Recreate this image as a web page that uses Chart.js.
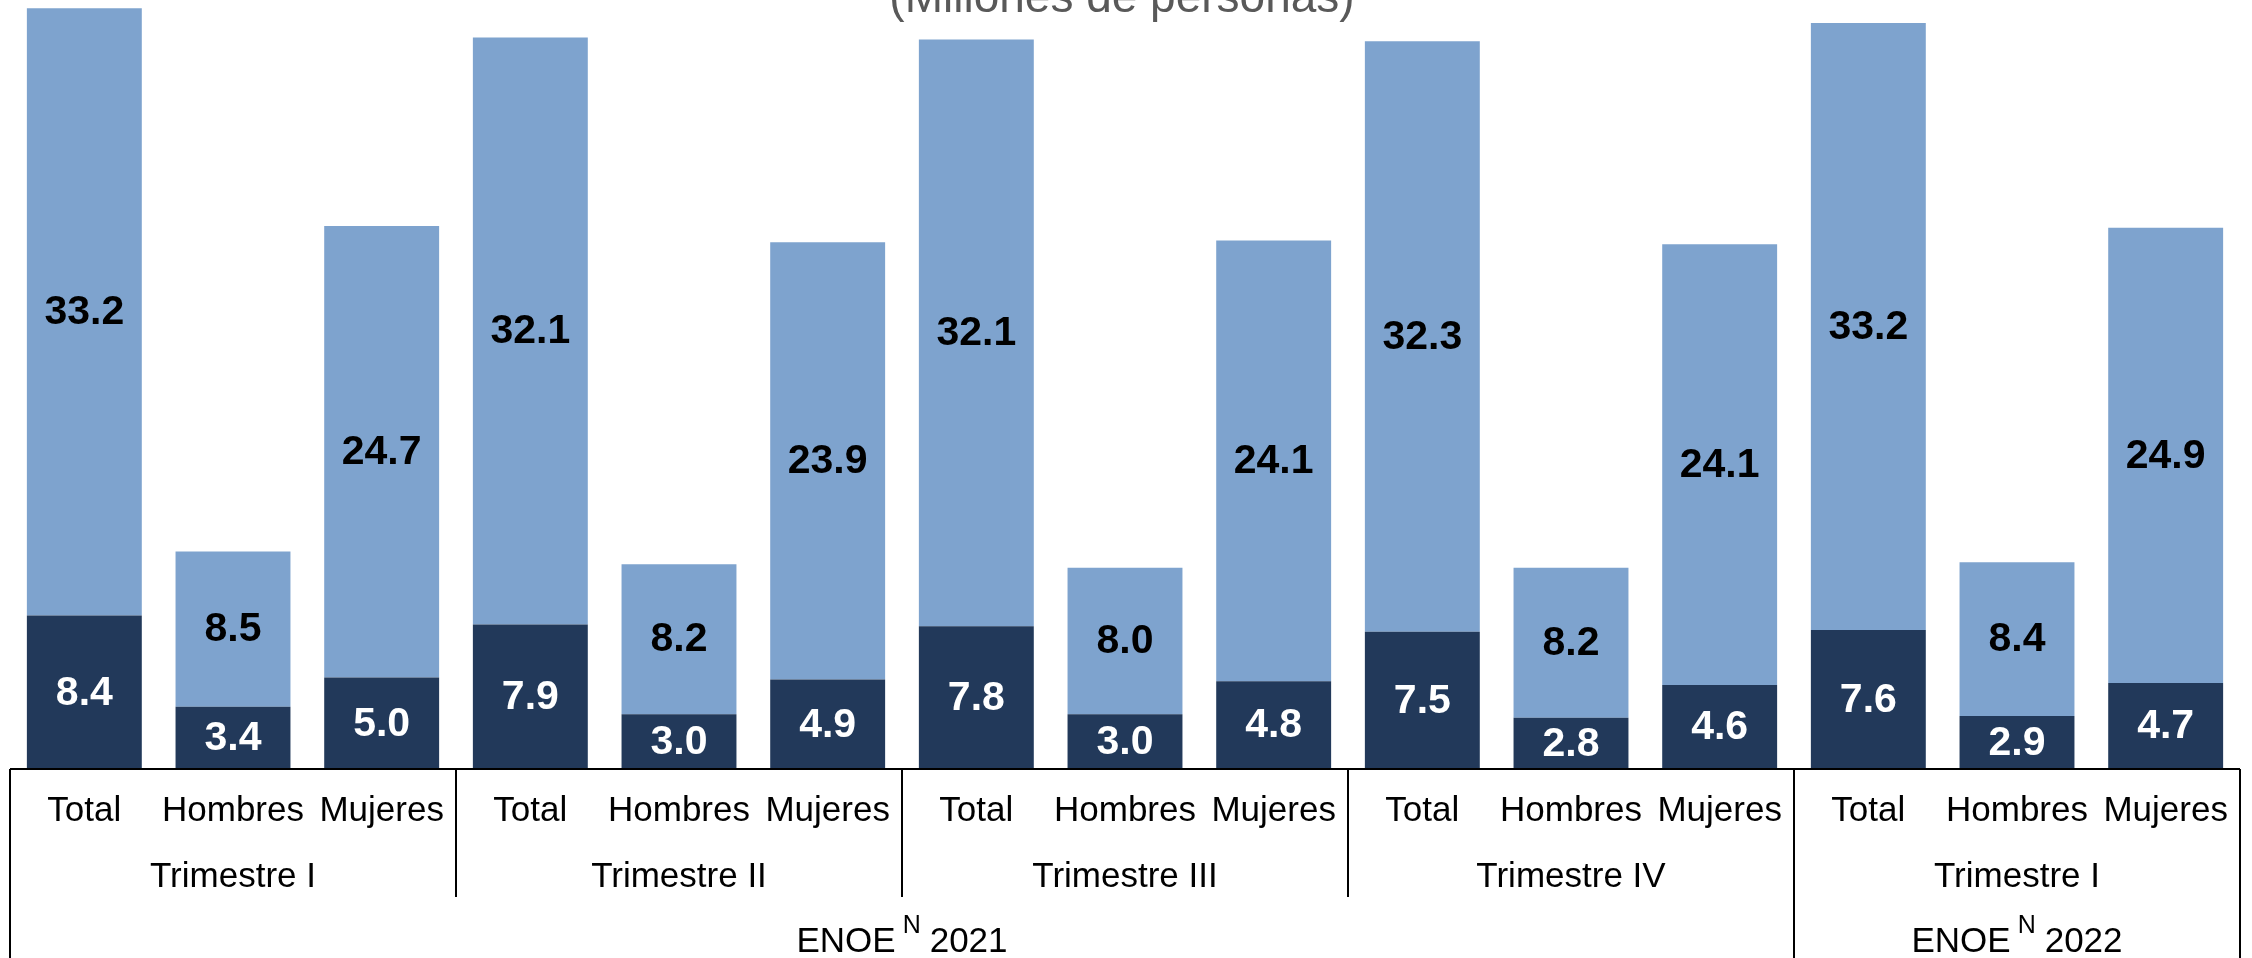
<!DOCTYPE html>
<html lang="es">
<head>
    <meta charset="UTF-8">
    <title>Población ocupada (Millones de personas)</title>
    <script src="https://cdn.jsdelivr.net/npm/chart.js"></script>
    <style>
        body { margin: 0; background: #ffffff; }
        canvas { display: block; }
    </style>
</head>
<body>
    <canvas id="grafico" width="2252" height="958"></canvas>
    <script>
        // datos
        const categorias = ['Total', 'Hombres', 'Mujeres', 'Total', 'Hombres', 'Mujeres', 'Total', 'Hombres', 'Mujeres',
                            'Total', 'Hombres', 'Mujeres', 'Total', 'Hombres', 'Mujeres'];
        const valoresInferior = [8.4, 3.4, 5.0, 7.9, 3.0, 4.9, 7.8, 3.0, 4.8, 7.5, 2.8, 4.6, 7.6, 2.9, 4.7];
        const valoresSuperior = [33.2, 8.5, 24.7, 32.1, 8.2, 23.9, 32.1, 8.0, 24.1, 32.3, 8.2, 24.1, 33.2, 8.4, 24.9];
        const trimestres = ['Trimestre I', 'Trimestre II', 'Trimestre III', 'Trimestre IV', 'Trimestre I'];
        const anios = ['2021', '2022'];
        const trimestresPorAnio = [4, 1];
        const titulo = '(Millones de personas)';

        const FUENTE = '"Liberation Sans", Arial, sans-serif';

        // etiquetas de valor centradas en cada segmento
        const etiquetasValor = {
            id: 'etiquetasValor',
            afterDatasetsDraw(chart) {
                const ctx = chart.ctx;
                ctx.save();
                ctx.font = 'bold 41px ' + FUENTE;
                ctx.textAlign = 'center';
                ctx.textBaseline = 'middle';
                chart.data.datasets.forEach((ds, i) => {
                    const meta = chart.getDatasetMeta(i);
                    ctx.fillStyle = ds.colorEtiqueta;
                    meta.data.forEach((bar, j) => {
                        const y = (bar.y + bar.base) / 2;
                        ctx.fillText(ds.data[j].toFixed(1), bar.x, y + 1);
                    });
                });
                ctx.restore();
            }
        };

        // eje agrupado: caja, separadores, trimestres y años
        const ejeAgrupado = {
            id: 'ejeAgrupado',
            afterDraw(chart) {
                const ctx = chart.ctx;
                const x = chart.scales.x;
                const area = chart.chartArea;
                const abajo = chart.height;
                const borde = (i) => {
                    if (i <= 0) return area.left;
                    if (i >= categorias.length) return area.right;
                    return (x.getPixelForValue(i - 1) + x.getPixelForValue(i)) / 2;
                };

                ctx.save();
                ctx.strokeStyle = '#000000';
                ctx.lineWidth = 2;
                ctx.beginPath();
                ctx.moveTo(area.left, area.bottom);
                ctx.lineTo(area.right, area.bottom);
                ctx.moveTo(area.left, area.bottom);
                ctx.lineTo(area.left, abajo);
                ctx.moveTo(area.right, area.bottom);
                ctx.lineTo(area.right, abajo);

                // separadores de trimestre / año
                let t = 0;
                const finAnio = [];
                trimestresPorAnio.forEach(n => { t += n; finAnio.push(t); });
                for (let k = 1; k < trimestres.length; k++) {
                    const px = borde(k * 3);
                    ctx.moveTo(px, area.bottom);
                    ctx.lineTo(px, finAnio.includes(k) ? abajo : 897);
                }
                ctx.stroke();

                // trimestres
                ctx.fillStyle = '#000000';
                ctx.font = '35px ' + FUENTE;
                ctx.textAlign = 'center';
                ctx.textBaseline = 'middle';
                trimestres.forEach((txt, k) => {
                    const cx = (borde(k * 3) + borde(k * 3 + 3)) / 2;
                    ctx.fillText(txt, cx, 877);
                });

                // años con ENOE^N
                let inicio = 0;
                ctx.textAlign = 'left';
                ctx.textBaseline = 'alphabetic';
                anios.forEach((anio, a) => {
                    const fin = inicio + trimestresPorAnio[a];
                    const cx = (borde(inicio * 3) + borde(fin * 3)) / 2;
                    ctx.font = '35px ' + FUENTE;
                    const wE = ctx.measureText('ENOE').width;
                    const wA = ctx.measureText(anio).width;
                    ctx.font = '25px ' + FUENTE;
                    const wN = ctx.measureText('N').width;
                    const total = wE + 7 + wN + 9 + wA;
                    let px = cx - total / 2;
                    const base = 952;
                    ctx.font = '35px ' + FUENTE;
                    ctx.fillText('ENOE', px, base);
                    px += wE + 7;
                    ctx.font = '25px ' + FUENTE;
                    ctx.fillText('N', px, base - 19);
                    px += wN + 9;
                    ctx.font = '35px ' + FUENTE;
                    ctx.fillText(anio, px, base);
                    inicio = fin;
                });

                // título (cortado en el borde superior)
                ctx.fillStyle = '#595959';
                ctx.font = '46px ' + FUENTE;
                ctx.textAlign = 'center';
                ctx.fillText(titulo, 1122, 12);
                ctx.restore();
            }
        };

        new Chart(document.getElementById('grafico').getContext('2d'), {
            type: 'bar',
            data: {
                labels: categorias,
                datasets: [{
                    label: 'Segmento inferior',
                    data: valoresInferior,
                    backgroundColor: '#22395A',
                    colorEtiqueta: '#ffffff',
                    categoryPercentage: 1,
                    barPercentage: 0.773
                }, {
                    label: 'Segmento superior',
                    data: valoresSuperior,
                    backgroundColor: '#7EA3CE',
                    colorEtiqueta: '#000000',
                    categoryPercentage: 1,
                    barPercentage: 0.773
                }]
            },
            options: {
                responsive: false,
                animation: false,
                layout: { padding: { left: 10, right: 12, top: 1, bottom: 0 } },
                plugins: {
                    legend: { display: false },
                    tooltip: { enabled: false },
                    title: { display: false }
                },
                scales: {
                    x: {
                        stacked: true,
                        grid: { display: false, drawTicks: false },
                        border: { display: false },
                        ticks: {
                            color: '#000000',
                            font: { family: FUENTE, size: 35 },
                            padding: 21,
                            maxRotation: 0,
                            autoSkip: false
                        },
                        afterFit(scale) { scale.height = 189; }
                    },
                    y: {
                        stacked: true,
                        display: false,
                        min: 0,
                        max: 42
                    }
                }
            },
            plugins: [etiquetasValor, ejeAgrupado]
        });
    </script>
</body>
</html>
